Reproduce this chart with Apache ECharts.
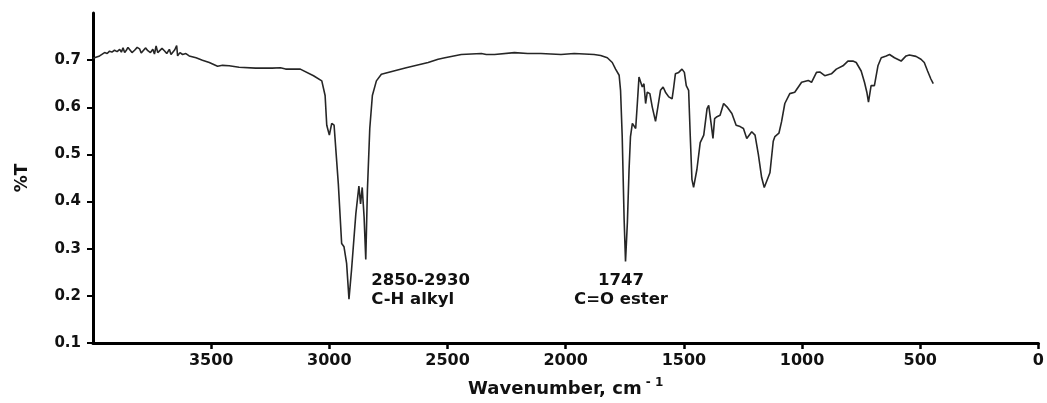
<!DOCTYPE html>
<html>
<head>
<meta charset="utf-8">
<script src="https://cdn.jsdelivr.net/npm/echarts@6/dist/echarts.min.js"></script>
<style>html,body{margin:0;padding:0;background:#fff}#c{width:1047px;height:403px}</style>
</head>
<body>
<div id="c"></div>
<script>
// Wavenumber (cm-1)
const wavenumber = [
  4000, 3993, 3972, 3951, 3940, 3930, 3920, 3909, 3898, 3887,
  3880, 3873, 3866, 3859, 3852, 3845, 3835, 3824, 3813, 3803,
  3796, 3789, 3778, 3768, 3757, 3747, 3740, 3733, 3726, 3719,
  3708, 3698, 3688, 3677, 3670, 3663, 3654, 3646, 3642, 3632,
  3621, 3607, 3593, 3564, 3537, 3508, 3473, 3452, 3424, 3382,
  3312, 3242, 3207, 3185, 3123, 3067, 3032, 3018, 3011, 3000,
  2990, 2980, 2962, 2948, 2938, 2927, 2917, 2906, 2888, 2875,
  2868, 2861, 2853, 2846, 2839, 2829, 2818, 2801, 2780, 2675,
  2582, 2540, 2511, 2442, 2357, 2336, 2301, 2217, 2161, 2105,
  2020, 1964, 1880, 1852, 1824, 1803, 1789, 1774, 1768, 1761,
  1753, 1747, 1739, 1732, 1726, 1718, 1704, 1697, 1690, 1683,
  1676, 1669, 1662, 1655, 1644, 1634, 1620, 1610, 1599, 1588,
  1578, 1564, 1550, 1543, 1536, 1522, 1508, 1498, 1490, 1480,
  1473, 1466, 1459, 1445, 1431, 1416, 1402, 1395, 1384, 1377,
  1370, 1360, 1347, 1332, 1318, 1297, 1279, 1262, 1248, 1234,
  1213, 1199, 1185, 1171, 1160, 1136, 1122, 1115, 1098, 1087,
  1073, 1052, 1031, 1002, 974, 960, 939, 925, 904, 876,
  855, 827, 806, 785, 771, 750, 736, 726, 719, 708,
  694, 679, 665, 644, 630, 609, 581, 560, 546, 518,
  497, 483, 469, 455, 445
];
// Transmittance
const transmittance = [
  0.704, 0.705, 0.709, 0.716, 0.714, 0.719, 0.717, 0.721, 0.718, 0.723,
  0.717, 0.726, 0.716, 0.721, 0.727, 0.724, 0.716, 0.721, 0.727, 0.724,
  0.715, 0.718, 0.726, 0.720, 0.716, 0.723, 0.713, 0.730, 0.716, 0.719,
  0.725, 0.720, 0.714, 0.723, 0.712, 0.716, 0.722, 0.731, 0.709, 0.716,
  0.712, 0.714, 0.709, 0.705, 0.700, 0.695, 0.687, 0.689, 0.688, 0.685,
  0.683, 0.683, 0.684, 0.681, 0.681, 0.667, 0.656, 0.625, 0.562, 0.541,
  0.566, 0.562, 0.437, 0.311, 0.304, 0.269, 0.193, 0.256, 0.374, 0.433,
  0.395, 0.430, 0.367, 0.277, 0.424, 0.555, 0.625, 0.656, 0.670, 0.684,
  0.695, 0.702, 0.705, 0.712, 0.714, 0.712, 0.712, 0.716, 0.714, 0.714,
  0.712, 0.714, 0.712, 0.710, 0.705, 0.695, 0.681, 0.668, 0.636, 0.538,
  0.364, 0.273, 0.357, 0.468, 0.538, 0.566, 0.555, 0.608, 0.664, 0.667,
  0.643, 0.650, 0.608, 0.632, 0.629, 0.601, 0.570, 0.601, 0.636, 0.643,
  0.632, 0.622, 0.618, 0.643, 0.671, 0.674, 0.681, 0.674, 0.646, 0.636,
  0.538, 0.447, 0.430, 0.468, 0.525, 0.541, 0.597, 0.604, 0.562, 0.534,
  0.576, 0.580, 0.583, 0.608, 0.601, 0.587, 0.562, 0.559, 0.555, 0.534,
  0.548, 0.541, 0.500, 0.451, 0.430, 0.461, 0.528, 0.538, 0.545, 0.569,
  0.608, 0.629, 0.632, 0.653, 0.657, 0.653, 0.674, 0.675, 0.667, 0.671,
  0.681, 0.688, 0.698, 0.698, 0.695, 0.677, 0.653, 0.632, 0.611, 0.646,
  0.646, 0.688, 0.705, 0.709, 0.712, 0.705, 0.698, 0.709, 0.711, 0.708,
  0.702, 0.695, 0.677, 0.660, 0.650
];
const xTicks = [500, 1000, 1500, 2000, 2500, 3000, 3500, 0];
const yTicks = [0.1, 0.2, 0.3, 0.4, 0.5, 0.6, 0.7];
const annotations = [
  { wn: 2823, t: 0.253, lines: ['2850-2930', 'C-H alkyl'], align: 'left' },
  { wn: 1766, t: 0.253, lines: ['1747', 'C=O ester'], align: 'center' }
];

const FONT = 'DejaVu Sans';
const chart = echarts.init(document.getElementById('c'));
const data = wavenumber.map((w, i) => [w, transmittance[i]]);

chart.setOption({
  animation: false,
  backgroundColor: '#fff',
  grid: { left: 93, right: 4, top: 13, bottom: 55, containLabel: false },
  xAxis: {
    type: 'value', inverse: true, min: 0, max: 4000, interval: 500,
    name: '{a|Wavenumber, cm}{b| - 1}',
    nameLocation: 'middle', nameGap: 34,
    nameTextStyle: {
      rich: {
        a: { fontFamily: FONT, fontWeight: 'bold', fontSize: 18, color: '#111' },
        b: { fontFamily: FONT, fontWeight: 'bold', fontSize: 12, color: '#111', padding: [0, 0, 12, 0] }
      }
    },
    axisLine: { show: true, onZero: false, lineStyle: { color: '#000', width: 3 } },
    axisTick: { show: true, inside: false, length: 6, lineStyle: { color: '#000', width: 2.5 }, customValues: xTicks },
    axisLabel: { customValues: xTicks, margin: 10, fontFamily: FONT, fontWeight: 'bold', fontSize: 16, color: '#111',
      formatter: v => String(v) },
    splitLine: { show: false }
  },
  yAxis: {
    type: 'value', min: 0.1, max: 0.8, interval: 0.1,
    name: '%T', nameLocation: 'middle', nameGap: 62, nameRotate: 90,
    nameTextStyle: { fontFamily: FONT, fontWeight: 'bold', fontSize: 17, color: '#111' },
    axisLine: { show: true, onZero: false, lineStyle: { color: '#000', width: 3 } },
    axisTick: { show: true, inside: false, length: 6, lineStyle: { color: '#000', width: 2 }, customValues: yTicks },
    axisLabel: { customValues: yTicks, margin: 12, fontFamily: FONT, fontWeight: 'bold', fontSize: 15, color: '#111',
      formatter: v => v.toFixed(1) },
    splitLine: { show: false }
  },
  series: [{
    type: 'line', data: data, symbol: 'none', smooth: false,
    lineStyle: { color: '#262626', width: 1.6 }
  }]
});

const graphics = annotations.map(a => {
  const p = chart.convertToPixel({ gridIndex: 0 }, [a.wn, a.t]);
  return {
    type: 'text', x: p[0], y: p[1],
    style: {
      text: a.lines.join('\n'), align: a.align, verticalAlign: 'top',
      fontFamily: FONT, fontWeight: 'bold', fontSize: 16.5, lineHeight: 19.5, fill: '#111'
    }
  };
});
chart.setOption({ graphic: graphics });
</script>
</body>
</html>
